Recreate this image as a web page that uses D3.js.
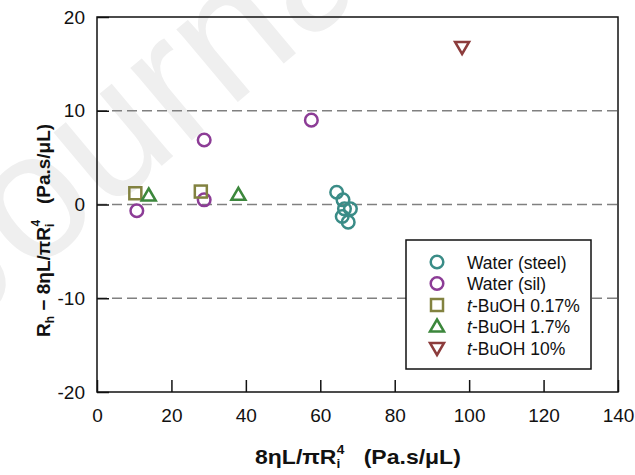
<!DOCTYPE html>
<html><head><meta charset="utf-8">
<script src="https://cdn.jsdelivr.net/npm/d3@7"></script>
<style>body{margin:0;background:#fff}svg{display:block}text{font-family:Arial,"Liberation Sans",sans-serif}</style>
</head><body>
<svg id="c" width="635" height="475"></svg>
<script>
// ---- data ----
const seriesNames = ["Water (steel)", "Water (sil)", "t-BuOH 0.17%", "t-BuOH 1.7%", "t-BuOH 10%"];
const steelX = [64.4, 66.1, 66.5, 68.1, 65.9, 67.5];
const steelY = [1.31, 0.5, -0.46, -0.46, -1.28, -1.88];
const silX = [10.7, 28.8, 28.8, 57.6];
const silY = [-0.67, 6.88, 0.5, 9.0];
const buoh017X = [10.3, 27.9];
const buoh017Y = [1.2, 1.38];
const buoh17X = [13.9, 38.0];
const buoh17Y = [0.96, 1.03];
const buoh10X = [98.1];
const buoh10Y = [16.8];
const xTicks = [0, 20, 40, 60, 80, 100, 120, 140];
const yTicks = [-20, -10, 0, 10, 20];
const gridY = [-10, 0, 10];

const colors = ["#3a8c87", "#8c3c96", "#828240", "#3c873c", "#8c3c3c"];
const shapes = ["circle", "circle", "square", "triangle", "down"];
const series = [
  {x: steelX, y: steelY}, {x: silX, y: silY}, {x: buoh017X, y: buoh017Y},
  {x: buoh17X, y: buoh17Y}, {x: buoh10X, y: buoh10Y}
];

const svg = d3.select("#c");
const L = 97, T = 17, W = 521, H = 375;

// watermark
svg.append("text").attr("transform", "translate(-40,335) rotate(-40)")
  .attr("font-size", 180).attr("fill", "#efefef").text("Journal Pre-proof");

const x = d3.scaleLinear().domain([0, 140]).range([L, L + W]);
const y = d3.scaleLinear().domain([-20, 20]).range([T + H, T]);

// grid
svg.append("g").selectAll("line").data(gridY).join("line")
  .attr("x1", L).attr("x2", L + W).attr("y1", d => y(d)).attr("y2", d => y(d))
  .attr("stroke", "#808080").attr("stroke-width", 1.3).attr("stroke-dasharray", "10,5");

// axes
const xa = svg.append("g").attr("transform", `translate(0,${T + H})`)
  .call(d3.axisBottom(x).tickValues(xTicks).tickSizeInner(-12).tickSizeOuter(0).tickPadding(17));
const ya = svg.append("g").attr("transform", `translate(${L},0)`)
  .call(d3.axisLeft(y).tickValues(yTicks).tickSizeInner(-12).tickSizeOuter(0).tickPadding(24).tickFormat(d => String(d)));
[xa, ya].forEach(a => {
  a.select(".domain").remove();
  a.selectAll("line").attr("stroke", "#111").attr("stroke-width", 1.5);
  a.selectAll("text").attr("font-size", 19).attr("fill", "#111").attr("font-family", "Arial");
});
ya.selectAll("text").attr("dx", "12");
// frame
svg.append("rect").attr("x", L).attr("y", T).attr("width", W).attr("height", H)
  .attr("fill", "none").attr("stroke", "#111").attr("stroke-width", 1.5);

function symbol(g, shape, cx, cy, col) {
  if (shape === "circle") {
    g.append("circle").attr("cx", cx).attr("cy", cy).attr("r", 6.3)
      .attr("fill", "none").attr("stroke", col).attr("stroke-width", 2.5);
  } else if (shape === "square") {
    g.append("rect").attr("x", cx - 6).attr("y", cy - 6).attr("width", 12).attr("height", 12)
      .attr("fill", "none").attr("stroke", col).attr("stroke-width", 2.5);
  } else if (shape === "triangle") {
    g.append("path").attr("d", `M${cx},${cy - 7}L${cx + 7},${cy + 5}L${cx - 7},${cy + 5}Z`)
      .attr("fill", "none").attr("stroke", col).attr("stroke-width", 2.5).attr("stroke-linejoin", "miter");
  } else {
    g.append("path").attr("d", `M${cx},${cy + 7}L${cx + 7},${cy - 5}L${cx - 7},${cy - 5}Z`)
      .attr("fill", "none").attr("stroke", col).attr("stroke-width", 2.5);
  }
}

const pts = svg.append("g");
series.forEach((s, i) => {
  s.x.forEach((xv, j) => symbol(pts, shapes[i], x(xv), y(s.y[j]), colors[i]));
});

// legend
const lg = svg.append("g");
lg.append("rect").attr("x", 406).attr("y", 240).attr("width", 185).attr("height", 129)
  .attr("fill", "#fff").attr("stroke", "#111").attr("stroke-width", 1.5);
seriesNames.forEach((n, i) => {
  const cy = 262 + i * 21.5;
  symbol(lg, shapes[i], 437, cy, colors[i]);
  const t = lg.append("text").attr("x", 467).attr("y", cy + 6.5).attr("font-size", 17.5).attr("fill", "#111");
  if (n.startsWith("t-")) {
    t.append("tspan").attr("font-style", "italic").text("t");
    t.append("tspan").text(n.slice(1));
  } else t.text(n);
});

// x title
const xt = svg.append("text").attr("transform", "translate(255,464) scale(1.15,1)")
  .attr("font-size", 20).attr("font-weight", "bold").attr("fill", "#111");
xt.append("tspan").text("8ηL/πR");
xt.append("tspan").attr("font-size", 12).attr("dy", 4).text("i");
xt.append("tspan").attr("font-size", 12).attr("dx", -3).attr("dy", -14).text("4");
xt.append("tspan").attr("dy", 10).text("\u00a0\u00a0\u00a0(Pa.s/μL)");

// y title
const yt = svg.append("text").attr("transform", "translate(50,337) rotate(-90)")
  .attr("font-size", 19).attr("font-weight", "bold").attr("fill", "#111");
yt.append("tspan").text("R");
yt.append("tspan").attr("font-size", 12).attr("dy", 4).text("h");
yt.append("tspan").attr("dy", -4).text(" − 8ηL/πR");
yt.append("tspan").attr("font-size", 12).attr("dy", 4).text("i");
yt.append("tspan").attr("font-size", 12).attr("dx", -3).attr("dy", -14).text("4");
yt.append("tspan").attr("dy", 10).text("\u00a0\u00a0\u00a0(Pa.s/μL)");
</script>
</body></html>
